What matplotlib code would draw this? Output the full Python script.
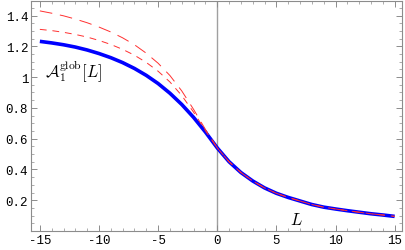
import numpy as np
import matplotlib
matplotlib.use("Agg")
import matplotlib.pyplot as plt
from matplotlib.ticker import MultipleLocator

plt.rcParams["axes.unicode_minus"] = False
plt.rcParams["mathtext.fontset"] = "cm"

# ---- data ----
L = [-15, -14, -13, -12, -11, -10, -9, -8, -7, -6, -5, -4, -3, -2, -1,
     0, 1, 2, 3, 4, 5, 6, 7, 8, 9, 10, 11, 12, 13, 14, 15]

# shared right half (all curves agree for L > 0)
right = [0.54, 0.45, 0.38, 0.325, 0.28, 0.245, 0.218, 0.195, 0.172, 0.155,
         0.143, 0.132, 0.122, 0.112, 0.104, 0.095]

# exact curve (thick blue)
a_exact = [1.232, 1.222, 1.210, 1.195, 1.176, 1.153, 1.126, 1.094, 1.056,
           1.011, 0.958, 0.895, 0.822, 0.738, 0.643] + right

# approximation 1 (long dashes)
a_approx1 = [1.43, 1.415, 1.398, 1.377, 1.353, 1.325, 1.293, 1.255, 1.21,
             1.155, 1.09, 1.01, 0.91, 0.79, 0.66] + right

# approximation 2 (short dashes)
a_approx2 = [1.31, 1.302, 1.291, 1.277, 1.26, 1.238, 1.212, 1.18, 1.142,
             1.095, 1.038, 0.968, 0.88, 0.772, 0.652] + right

# ---- figure ----
fig = plt.figure(figsize=(4.05, 2.51), dpi=100)
ax = fig.add_axes([0.0765, 0.0757, 0.916, 0.918])

frame_col = "#8c8c8c"
ax.axvline(0, color="#a0a0a0", lw=1.0, zorder=1)

ax.plot(L, a_exact, color="#0000ff", lw=2.6, solid_capstyle="butt", zorder=2)
ax.plot(L, a_approx1, color="#ff3030", lw=0.7, dashes=(13, 8), zorder=3)
ax.plot(L, a_approx2, color="#ff3030", lw=0.7, dashes=(7, 6), zorder=3)

ax.set_xlim(-15.75, 15.62)
ax.set_ylim(0, 1.497)

ax.xaxis.set_major_locator(MultipleLocator(5))
ax.xaxis.set_minor_locator(MultipleLocator(1))
ax.yaxis.set_minor_locator(MultipleLocator(0.05))
ax.set_yticks([0.2, 0.4, 0.6, 0.8, 1.0, 1.2, 1.4])
ax.set_yticklabels(["0.2", "0.4", "0.6", "0.8", "1", "1.2", "1.4"])

for s in ax.spines.values():
    s.set_color(frame_col)
    s.set_linewidth(0.8)

ax.tick_params(which="both", direction="in", top=True, right=True,
               color=frame_col, labelsize=9, pad=2)
ax.tick_params(which="major", length=4, width=0.7)
ax.tick_params(which="minor", length=2, width=0.5)
for lab in ax.get_xticklabels() + ax.get_yticklabels():
    lab.set_family("Liberation Mono")

ax.text(-14.6, 1.04, r"$\mathcal{A}_1^{\mathrm{glob}}[L]$", fontsize=12,
        ha="left", va="center")
ax.text(6.65, 0.075, r"$L$", fontsize=12, ha="center", va="center")

fig.savefig("out.png", dpi=100)
